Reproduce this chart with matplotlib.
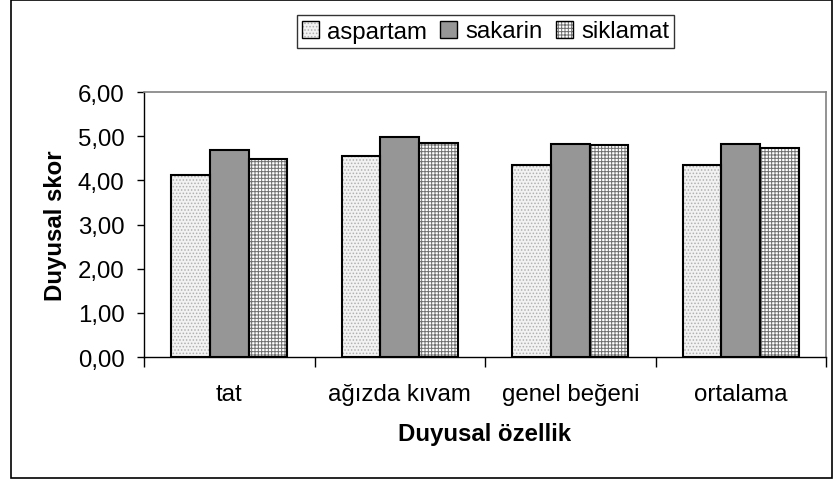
import matplotlib
matplotlib.use("Agg")
import matplotlib.pyplot as plt
import numpy as np
from matplotlib.patches import Patch, Rectangle
from matplotlib.legend_handler import HandlerBase
from matplotlib.ticker import FuncFormatter, FixedLocator

plt.rcParams['font.family'] = ['Liberation Sans', 'DejaVu Sans']

categories = ["tat", "ağızda kıvam", "genel beğeni", "ortalama"]
series_names = ["aspartam", "sakarin", "siklamat"]
aspartam = [4.13, 4.55, 4.35, 4.35]
sakarin = [4.68, 4.98, 4.82, 4.82]
siklamat = [4.48, 4.85, 4.80, 4.73]
yticks = [0, 1, 2, 3, 4, 5, 6]

values = [aspartam, sakarin, siklamat]
faces = ['#f2f2f2', '#969696', '#ffffff']
hatches = ['.....', None, '+++++']
hatch_cols = ['#b0b0b0', '#969696', '#707070']

W, H = 833, 485
fig = plt.figure(figsize=(W / 100, H / 100), dpi=100)
ax = fig.add_axes([144 / W, 1 - 358 / H, (826 - 144) / W, (358 - 93) / H])

FS = 17.3
plt.rcParams['hatch.linewidth'] = 0.7
x = np.arange(len(categories))
bw = 0.227
handles = []
for i, (vals, fc, hc, hcol) in enumerate(zip(values, faces, hatches, hatch_cols)):
    pos = x + (i - 1) * bw
    ax.bar(pos, vals, width=bw, color=fc, hatch=hc, edgecolor=hcol, linewidth=0, zorder=2)
    ax.bar(pos, vals, width=bw, fill=False, edgecolor='black', linewidth=1.5, zorder=3)
    handles.append(Patch(facecolor=fc, hatch=hc, edgecolor=hcol, linewidth=0))


class SquareHandler(HandlerBase):
    def create_artists(self, legend, orig, xd, yd, width, height, fontsize, trans):
        s = min(width, height)
        x0 = xd + (width - s) / 2
        y0 = yd + (height - s) / 2
        fill = Rectangle((x0, y0), s, s, facecolor=orig.get_facecolor(),
                         hatch=orig.get_hatch(), edgecolor=orig.get_edgecolor(),
                         linewidth=0, transform=trans)
        outline = Rectangle((x0, y0), s, s, fill=False, edgecolor='black',
                            linewidth=1.0, transform=trans)
        return [fill, outline]


ax.set_xlim(-0.5, len(categories) - 0.5)
ax.set_ylim(0, 6)
ax.yaxis.set_major_locator(FixedLocator(yticks))
ax.yaxis.set_major_formatter(FuncFormatter(lambda v, p: f"{v:.2f}".replace('.', ',')))
ax.set_xticks(np.arange(-0.5, len(categories), 1.0))
ax.set_xticklabels([])
ax.set_xticks(x, minor=True)
ax.set_xticklabels(categories, minor=True)
ax.tick_params(axis='x', which='major', direction='out', length=7, width=1, colors='black')
ax.tick_params(axis='x', which='minor', length=0, pad=19, labelsize=FS)
ax.tick_params(axis='y', direction='out', length=5, width=1, pad=9, labelsize=FS)

for s in ['top', 'right']:
    ax.spines[s].set_color('#808080')
    ax.spines[s].set_linewidth(1.2)
for s in ['left', 'bottom']:
    ax.spines[s].set_color('black')
    ax.spines[s].set_linewidth(1.0)

ax.set_ylabel("Duyusal skor", fontsize=FS, fontweight='bold', labelpad=8)
ax.set_xlabel("Duyusal özellik", fontsize=FS, fontweight='bold', labelpad=12)

leg = fig.legend(handles, series_names, loc='center', bbox_to_anchor=(485.5 / W, 1 - 32.5 / H),
                 ncol=3, fontsize=FS, frameon=True, fancybox=False, edgecolor='black',
                 handler_map={Patch: SquareHandler()},
                 handlelength=0.7, handleheight=0.7, handletextpad=0.35,
                 columnspacing=0.55, borderpad=0.22, borderaxespad=0)
leg.get_frame().set_linewidth(1.0)

fig.patches.append(Rectangle((11 / W, 1 - 479 / H), (832 - 11) / W, (479 - 1) / H,
                             transform=fig.transFigure, fill=False, edgecolor='black',
                             linewidth=1.2, zorder=0))

fig.savefig("out.png", dpi=100)
